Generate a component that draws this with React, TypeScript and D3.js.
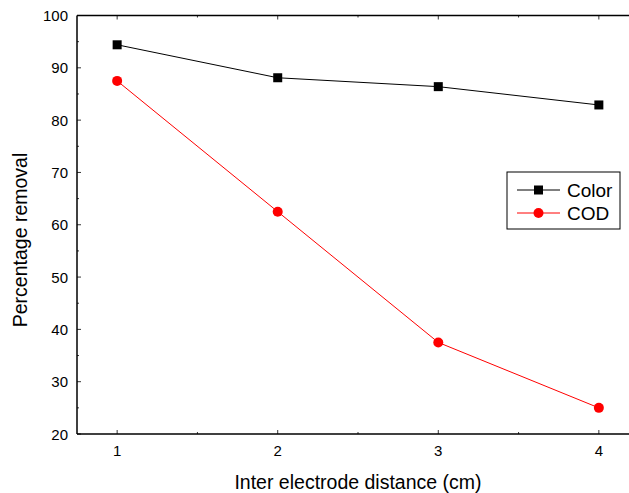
import * as d3 from 'd3'
import React, { useEffect, useRef } from 'react'

const distances = [1, 2, 3, 4]
const colorRemoval = [94.4, 88.1, 86.4, 82.9]
const codRemoval = [87.5, 62.5, 37.5, 25.0]
const xTicks = [1, 2, 3, 4]
const yTicks = [20, 30, 40, 50, 60, 70, 80, 90, 100]

const App = () => {
  const svgRef = useRef<SVGSVGElement | null>(null)

  const width = 629
  const height = 493
  const margin = { top: 15.5, right: -10, bottom: 59, left: 77 }

  useEffect(() => {
    if (!svgRef.current) return
    const root = d3.select(svgRef.current)
    root.selectAll('*').remove()

    const innerWidth = width - margin.left - margin.right
    const innerHeight = height - margin.top - margin.bottom
    const font = 'Arial, "Liberation Sans", sans-serif'

    const x = d3.scaleLinear().domain([0.75, 4.25]).range([0, innerWidth])
    const y = d3.scaleLinear().domain([20, 100]).range([innerHeight, 0])

    const svg = root.append('g').attr('transform', `translate(${margin.left},${margin.top})`)

    // frame lines (left, bottom, top)
    svg.append('line').attr('x1', 0).attr('x2', 0).attr('y1', 0).attr('y2', innerHeight)
      .attr('stroke', '#000').attr('stroke-width', 1.5)
    svg.append('line').attr('x1', 0).attr('x2', innerWidth).attr('y1', innerHeight).attr('y2', innerHeight)
      .attr('stroke', '#000').attr('stroke-width', 1.5)
    svg.append('line').attr('x1', 0).attr('x2', innerWidth).attr('y1', 0).attr('y2', 0)
      .attr('stroke', '#000').attr('stroke-width', 1.5)

    // inward ticks
    const xMinor = d3.range(1.5, 4.01, 1)
    xTicks.forEach((t) => {
      svg.append('line').attr('x1', x(t)).attr('x2', x(t)).attr('y1', innerHeight).attr('y2', innerHeight - 4)
        .attr('stroke', '#000').attr('stroke-width', 0.8)
      svg.append('line').attr('x1', x(t)).attr('x2', x(t)).attr('y1', 0).attr('y2', 4)
        .attr('stroke', '#000').attr('stroke-width', 0.8)
      svg.append('text').attr('x', x(t)).attr('y', innerHeight + 22)
        .attr('text-anchor', 'middle').style('font-family', font).style('font-size', '15px').text(t)
    })
    xMinor.forEach((t) => {
      svg.append('line').attr('x1', x(t)).attr('x2', x(t)).attr('y1', innerHeight).attr('y2', innerHeight - 2)
        .attr('stroke', '#000').attr('stroke-width', 0.8)
      svg.append('line').attr('x1', x(t)).attr('x2', x(t)).attr('y1', 0).attr('y2', 2)
        .attr('stroke', '#000').attr('stroke-width', 0.8)
    })
    yTicks.forEach((t) => {
      svg.append('line').attr('x1', 0).attr('x2', 4).attr('y1', y(t)).attr('y2', y(t))
        .attr('stroke', '#000').attr('stroke-width', 0.8)
      svg.append('text').attr('x', -9).attr('y', y(t) + 5.5)
        .attr('text-anchor', 'end').style('font-family', font).style('font-size', '15px').text(t)
    })
    d3.range(25, 100, 10).forEach((t) => {
      svg.append('line').attr('x1', 0).attr('x2', 2).attr('y1', y(t)).attr('y2', y(t))
        .attr('stroke', '#000').attr('stroke-width', 0.8)
    })

    const line = d3.line<[number, number]>().x((d) => x(d[0])).y((d) => y(d[1]))

    const colorPts = distances.map((d, i) => [d, colorRemoval[i]] as [number, number])
    const codPts = distances.map((d, i) => [d, codRemoval[i]] as [number, number])

    svg.append('path').datum(colorPts).attr('d', line).attr('fill', 'none')
      .attr('stroke', '#000').attr('stroke-width', 1)
    svg.append('path').datum(codPts).attr('d', line).attr('fill', 'none')
      .attr('stroke', '#ff0000').attr('stroke-width', 1)

    colorPts.forEach((p) => {
      svg.append('rect').attr('x', x(p[0]) - 4.5).attr('y', y(p[1]) - 4.5)
        .attr('width', 9).attr('height', 9).attr('fill', '#000')
    })
    codPts.forEach((p) => {
      svg.append('circle').attr('cx', x(p[0])).attr('cy', y(p[1])).attr('r', 5)
        .attr('fill', '#ff0000')
    })

    // legend
    const lg = root.append('g').attr('transform', 'translate(507,172)')
    lg.append('rect').attr('width', 113).attr('height', 57).attr('fill', '#fff')
      .attr('stroke', '#000').attr('stroke-width', 1)
    const items = [
      { label: 'Color', color: '#000', shape: 'square', yy: 18 },
      { label: 'COD', color: '#ff0000', shape: 'circle', yy: 41 }
    ]
    items.forEach((it) => {
      lg.append('line').attr('x1', 10).attr('x2', 53).attr('y1', it.yy).attr('y2', it.yy)
        .attr('stroke', it.color).attr('stroke-width', 1)
      if (it.shape === 'square') {
        lg.append('rect').attr('x', 31.5 - 4.5).attr('y', it.yy - 4.5).attr('width', 9).attr('height', 9)
          .attr('fill', it.color)
      } else {
        lg.append('circle').attr('cx', 31.5).attr('cy', it.yy).attr('r', 5).attr('fill', it.color)
      }
      lg.append('text').attr('x', 60).attr('y', it.yy + 7).style('font-family', font)
        .style('font-size', '19px').text(it.label)
    })

    // axis titles
    root.append('text').attr('x', 358).attr('y', 489)
      .attr('text-anchor', 'middle').style('font-family', font).style('font-size', '19.5px')
      .text('Inter electrode distance (cm)')
    root.append('text').attr('transform', `translate(27,240) rotate(-90)`)
      .attr('text-anchor', 'middle').style('font-family', font).style('font-size', '19.5px')
      .text('Percentage removal')
  }, [])

  return (
    <div style={{ position: 'absolute', left: 0, top: 0, width, height, background: '#fff' }}>
      <svg ref={svgRef} width={width} height={height}></svg>
    </div>
  )
}

export default App
